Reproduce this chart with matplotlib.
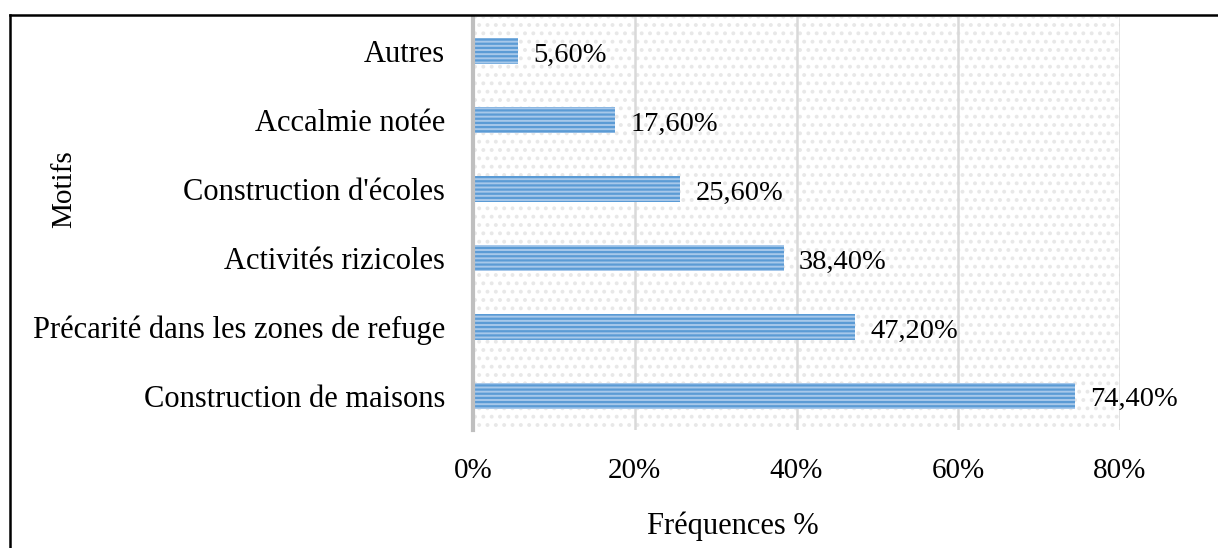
import matplotlib
matplotlib.use("Agg")
import matplotlib.pyplot as plt
from matplotlib.ticker import FuncFormatter
from matplotlib.lines import Line2D

categories = ["Construction de maisons", "Précarité dans les zones de refuge",
              "Activités rizicoles", "Construction d'écoles", "Accalmie notée", "Autres"]
values = [74.4, 47.2, 38.4, 25.6, 17.6, 5.6]
labels = ["74,40%", "47,20%", "38,40%", "25,60%", "17,60%", "5,60%"]
xticks = [0, 20, 40, 60, 80]

plt.rcParams['font.family'] = ['Liberation Serif', 'DejaVu Serif']
plt.rcParams['hatch.linewidth'] = 1.6

W, H = 1218, 548
fig = plt.figure(figsize=(W / 100, H / 100), dpi=100)
ax = fig.add_axes([473 / W, 1 - 430 / H, (1120 - 473) / W, (430 - 17) / H])

ax.patch.set_facecolor('white')
ax.patch.set_edgecolor('#E8E8E8')
ax.patch.set_hatch('..')
ax.patch.set_linewidth(0)

ypos = list(range(len(categories)))
ax.barh(ypos, values, height=0.38, color='#A7C8EA', edgecolor='#5B9BD5',
        hatch='----', linewidth=0, zorder=3)

for y, v, lab in zip(ypos, values, labels):
    ax.annotate(lab, (v, y), xytext=(11, -3), textcoords='offset points',
                ha='left', va='center', fontsize=20.5, color='black', zorder=4)

ax.set_xlim(0, 80)
ax.set_ylim(-0.5, len(categories) - 0.5)
ax.set_xticks(xticks)
ax.xaxis.set_major_formatter(FuncFormatter(lambda v, p: f"{int(v)}%"))
ax.set_yticks(ypos)
ax.set_yticklabels(categories)
ax.tick_params(axis='both', length=0)
ax.tick_params(axis='x', pad=20, labelsize=21)
ax.tick_params(axis='y', pad=20, labelsize=22)
ax.grid(axis='x', color='#D9D9D9', linewidth=1.8, zorder=1)
ax.set_axisbelow(True)
for s in ['top', 'right', 'bottom']:
    ax.spines[s].set_visible(False)
ax.spines['left'].set_color('#BFBFBF')
ax.spines['left'].set_linewidth(3)
ax.spines['left'].set_zorder(5)

fig.text(733 / W, 1 - 526 / H, "Fréquences %", ha='center', va='center', fontsize=22)
fig.text(64 / W, 1 - 189 / H, "Motifs", ha='center', va='center', fontsize=21, rotation=90)

# outer frame (cut at right and bottom)
fig.add_artist(Line2D([10 / W, 1], [1 - 14.5 / H, 1 - 14.5 / H], transform=fig.transFigure,
                      color='black', linewidth=1.8))
fig.add_artist(Line2D([10 / W, 10 / W], [0, 1 - 14.5 / H], transform=fig.transFigure,
                      color='black', linewidth=1.8))

fig.savefig("out.png", dpi=100)
